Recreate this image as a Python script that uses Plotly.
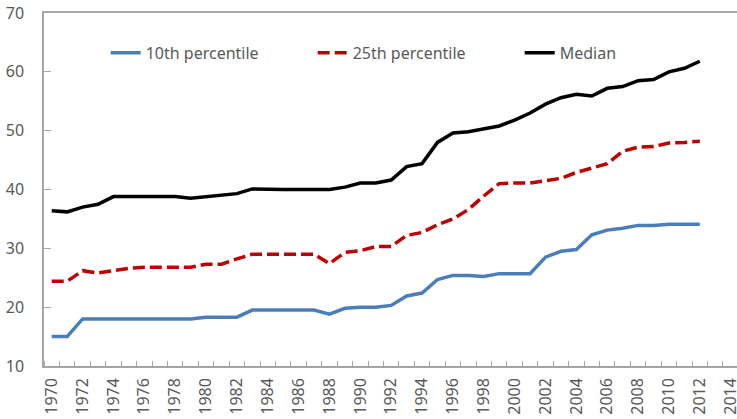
import plotly.graph_objects as go

years = list(range(1970, 2013))

p10 = [15.0, 15.0, 18.0, 18.0, 18.0, 18.0, 18.0, 18.0, 18.0, 18.0,
       18.3, 18.3, 18.3, 19.5, 19.5, 19.5, 19.5, 19.5, 18.8, 19.8,
       20.0, 20.0, 20.3, 21.9, 22.4, 24.7, 25.4, 25.4, 25.2, 25.7,
       25.7, 25.7, 28.5, 29.5, 29.8, 32.3, 33.1, 33.4, 33.9, 33.9,
       34.1, 34.1, 34.1]

p25 = [24.4, 24.4, 26.2, 25.8, 26.2, 26.6, 26.8, 26.8, 26.8, 26.8,
       27.3, 27.3, 28.2, 29.0, 29.0, 29.0, 29.0, 29.0, 27.4, 29.3,
       29.6, 30.3, 30.3, 32.2, 32.7, 34.0, 35.0, 36.6, 38.9, 41.0,
       41.1, 41.1, 41.5, 41.9, 42.9, 43.6, 44.4, 46.5, 47.2, 47.3,
       47.9, 48.0, 48.2]

median = [36.4, 36.2, 37.0, 37.5, 38.8, 38.8, 38.8, 38.8, 38.8, 38.5,
          38.8, 39.1, 39.3, 40.1, 40.0, 40.0, 40.0, 40.0, 40.0, 40.4,
          41.1, 41.1, 41.6, 43.9, 44.4, 48.0, 49.6, 49.8, 50.3, 50.8,
          51.8, 53.0, 54.5, 55.6, 56.2, 55.9, 57.2, 57.5, 58.5, 58.7,
          60.0, 60.6, 61.8]

series = [
    ("10th percentile", p10, dict(color="#4A7EBB", width=3.5)),
    ("25th percentile", p25, dict(color="#C00000", width=3.5, dash="12px,5px")),
    ("Median", median, dict(color="#000000", width=3.5)),
]

FONT = dict(family="Noto Sans, sans-serif", size=16, color="#595959")
AXIS_COLOR = "#A6A6A6"

fig = go.Figure()
for name, vals, line in series:
    fig.add_trace(go.Scatter(x=years, y=vals, name=name, mode="lines", line=line))

fig.update_layout(
    width=737,
    height=419,
    margin=dict(l=44, r=0, t=13, b=53),
    plot_bgcolor="white",
    paper_bgcolor="white",
    font=FONT,
    legend=dict(
        orientation="h",
        x=0.089,
        xanchor="left",
        y=0.887,
        yanchor="middle",
        font=FONT,
        bgcolor="rgba(0,0,0,0)",
        entrywidth=162,
    ),
    xaxis=dict(
        range=[1969.5, 2014.41],
        tickmode="linear",
        tick0=1970,
        dtick=2,
        ticks="",
        tickangle=-90,
        ticklabelstandoff=4,
        ticklabeloverflow="allow",
        automargin=False,
        showgrid=False,
        zeroline=False,
        showline=True,
        linecolor=AXIS_COLOR,
        linewidth=1.5,
        mirror=True,
        minor=dict(tick0=1969.5, dtick=1, ticks="inside", ticklen=5,
                   tickcolor=AXIS_COLOR, tickwidth=1.2),
    ),
    yaxis=dict(
        range=[10, 70],
        tickmode="linear",
        tick0=10,
        dtick=10,
        ticks="inside",
        ticklen=7,
        tickcolor=AXIS_COLOR,
        tickwidth=1.2,
        ticklabelstandoff=15,
        automargin=False,
        showgrid=False,
        zeroline=False,
        showline=True,
        linecolor=AXIS_COLOR,
        linewidth=1.5,
    ),
)

# drop the default page margin so the figure sits at the window's corner
fig.write_html("out.html", config={"displayModeBar": False},
               post_script="document.body.style.margin='0';")
